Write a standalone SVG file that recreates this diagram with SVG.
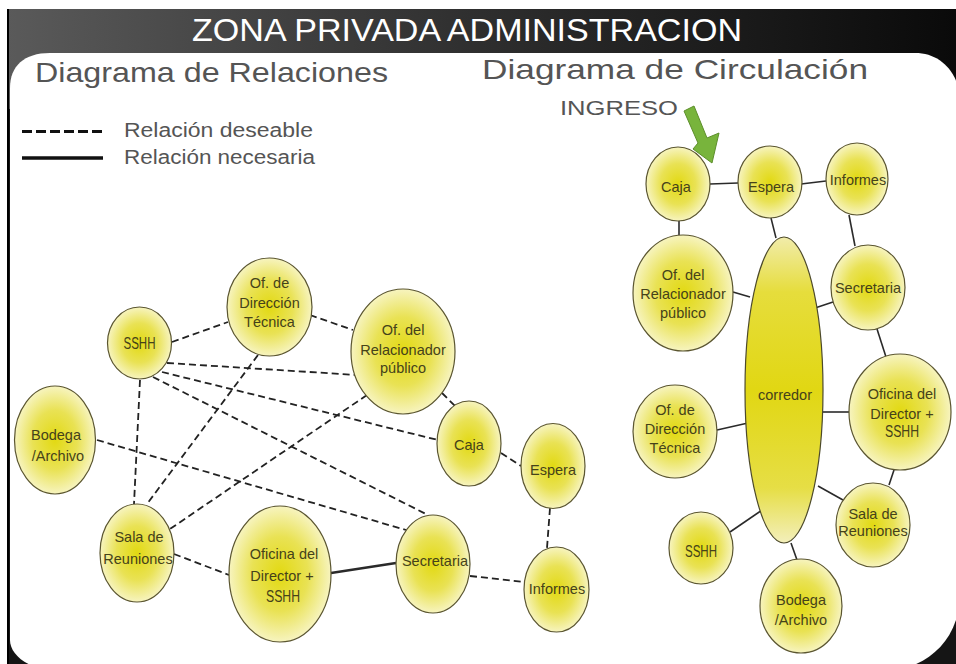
<svg xmlns="http://www.w3.org/2000/svg" width="956" height="664" viewBox="0 0 956 664">
<defs>
  <linearGradient id="hdr" x1="0" y1="0" x2="1" y2="0">
    <stop offset="0" stop-color="#5a5a5a"/>
    <stop offset="0.5" stop-color="#2e2e2e"/>
    <stop offset="1" stop-color="#0a0a0a"/>
  </linearGradient>
  <radialGradient id="node" cx="0.5" cy="0.5" r="0.5">
    <stop offset="0" stop-color="#e2d912"/>
    <stop offset="0.55" stop-color="#e9e254"/>
    <stop offset="1" stop-color="#f7f4bf"/>
  </radialGradient>
  <linearGradient id="corr" x1="0" y1="0" x2="0" y2="1">
    <stop offset="0" stop-color="#f1ecaa"/>
    <stop offset="0.18" stop-color="#e6dd3c"/>
    <stop offset="0.5" stop-color="#e1d713"/>
    <stop offset="0.82" stop-color="#e6de45"/>
    <stop offset="1" stop-color="#f3efbb"/>
  </linearGradient>
</defs>
<style>
  .nd { fill: url(#node); stroke: #5b5630; stroke-width: 1.2; }
  .lbl { font-family: "Liberation Sans", Arial, sans-serif; font-size: 14.5px; fill: #45421a; text-anchor: middle; }
  .sshh { font-size: 16px; }
  .dash { stroke: #222; stroke-width: 1.8; stroke-dasharray: 7 4; fill: none; }
  .solid { stroke: #2a2a2a; stroke-width: 1.6; fill: none; }
  .title { font-family: "Liberation Sans", Arial, sans-serif; fill: #ffffff; font-size: 31px; }
  .sub { font-family: "Liberation Sans", Arial, sans-serif; fill: #555555; font-size: 28px; }
  .leg { font-family: "Liberation Sans", Arial, sans-serif; fill: #555555; font-size: 20px; }
</style>

<!-- frame -->
<rect x="0" y="0" width="956" height="664" fill="#ffffff"/>
<rect x="7" y="9" width="949" height="655" fill="#151515"/>
<rect x="7" y="9" width="949" height="100" fill="url(#hdr)"/>
<path d="M 10 88 C 10 66, 24 53, 50 53 L 915 53 C 938 53, 954 68, 960 92 L 960 598 C 958 636, 934 660, 905 668 L 40 668 C 22 664, 10 652, 10 640 Z" fill="#ffffff"/>
<line x1="8" y1="9" x2="8" y2="664" stroke="#000" stroke-width="2"/>

<text class="title" x="192" y="41" textLength="550" lengthAdjust="spacingAndGlyphs">ZONA PRIVADA ADMINISTRACION</text>
<text class="sub" x="35" y="82" textLength="353" lengthAdjust="spacingAndGlyphs">Diagrama de Relaciones</text>
<text class="sub" x="482" y="79" textLength="386" lengthAdjust="spacingAndGlyphs">Diagrama de Circulación</text>
<text class="sub" x="560" y="115" style="font-size:21px" textLength="118" lengthAdjust="spacingAndGlyphs">INGRESO</text>

<!-- legend -->
<g id="legend">
  <line x1="22" y1="131.5" x2="102" y2="131.5" stroke="#111" stroke-width="3" stroke-dasharray="10 4"/>
  <line x1="22" y1="158" x2="103" y2="158" stroke="#111" stroke-width="3.5"/>
  <text class="leg" x="124" y="137" textLength="189" lengthAdjust="spacingAndGlyphs">Relación deseable</text>
  <text class="leg" x="124" y="164" textLength="191" lengthAdjust="spacingAndGlyphs">Relación necesaria</text>
</g>

<!-- green arrow -->
<polygon id="ingreso-arrow" points="684,111 694,106 707,138 719,133 712,163 693,149 698,143" fill="#78b43c" stroke="#5d8f2b" stroke-width="1"/>

<!-- connectors -->
<g id="connectors">
  <!-- left: relations -->
  <line class="dash" x1="172" y1="342" x2="228" y2="322"/>
  <line class="dash" x1="310" y1="315" x2="353" y2="330"/>
  <line class="dash" x1="167" y1="363" x2="357" y2="375"/>
  <line class="dash" x1="162" y1="372" x2="438" y2="440"/>
  <line class="dash" x1="153" y1="377" x2="428" y2="515"/>
  <line class="dash" x1="140" y1="380" x2="134" y2="504"/>
  <line class="dash" x1="258" y1="355" x2="147" y2="504"/>
  <line class="dash" x1="367" y1="395" x2="170" y2="529"/>
  <line class="dash" x1="442" y1="393" x2="455" y2="406"/>
  <line class="dash" x1="501" y1="453" x2="521" y2="466"/>
  <line class="dash" x1="550" y1="508" x2="547" y2="548"/>
  <line class="dash" x1="97" y1="440" x2="406" y2="530"/>
  <line class="dash" x1="174" y1="554" x2="229" y2="575"/>
  <line class="dash" x1="470" y1="576" x2="525" y2="582"/>
  <line class="solid" x1="331" y1="573" x2="396" y2="563" style="stroke-width:2.5"/>
  <!-- right: circulation -->
  <line class="solid" x1="710" y1="184" x2="738" y2="183"/>
  <line class="solid" x1="801" y1="184" x2="826" y2="181"/>
  <line class="solid" x1="679" y1="221" x2="679" y2="235"/>
  <line class="solid" x1="771" y1="218" x2="776" y2="238"/>
  <line class="solid" x1="849" y1="215" x2="855" y2="246"/>
  <line class="solid" x1="733" y1="292" x2="750" y2="297"/>
  <line class="solid" x1="815" y1="308" x2="833" y2="302"/>
  <line class="solid" x1="877" y1="329" x2="886" y2="357"/>
  <line class="solid" x1="822" y1="412" x2="850" y2="412"/>
  <line class="solid" x1="717" y1="430" x2="748" y2="423"/>
  <line class="solid" x1="818" y1="486" x2="843" y2="500"/>
  <line class="solid" x1="894" y1="470" x2="889" y2="485"/>
  <line class="solid" x1="730" y1="532" x2="765" y2="508"/>
  <line class="solid" x1="791" y1="543" x2="797" y2="560"/>
</g>

<!-- left diagram nodes -->
<g id="l-sshh"><ellipse class="nd" cx="139.5" cy="343" rx="32" ry="36"/><text class="lbl sshh" x="139.5" y="349" textLength="32" lengthAdjust="spacingAndGlyphs">SSHH</text></g>
<g id="l-direccion"><ellipse class="nd" cx="269.5" cy="307" rx="42.5" ry="49"/><text class="lbl" x="269.5" y="288">Of. de</text><text class="lbl" x="269.5" y="308">Dirección</text><text class="lbl" x="269.5" y="327">Técnica</text></g>
<g id="l-relacionador"><ellipse class="nd" cx="403" cy="351.5" rx="52" ry="62.5"/><text class="lbl" x="403" y="335">Of. del</text><text class="lbl" x="403" y="354.5">Relacionador</text><text class="lbl" x="403" y="373">público</text></g>
<g id="l-caja"><ellipse class="nd" cx="469" cy="443.5" rx="32" ry="42.5"/><text class="lbl" x="469" y="450">Caja</text></g>
<g id="l-espera"><ellipse class="nd" cx="553" cy="466" rx="32" ry="42.5"/><text class="lbl" x="553" y="475">Espera</text></g>
<g id="l-informes"><ellipse class="nd" cx="556.5" cy="589.5" rx="32.5" ry="42.5"/><text class="lbl" x="557" y="594">Informes</text></g>
<g id="l-secretaria"><ellipse class="nd" cx="433" cy="564" rx="37" ry="49"/><text class="lbl" x="435" y="566">Secretaria</text></g>
<g id="l-oficina"><ellipse class="nd" cx="280" cy="574" rx="51" ry="68"/><text class="lbl" x="284" y="559">Oficina del</text><text class="lbl" x="282" y="581">Director +</text><text class="lbl sshh" x="283" y="602" textLength="34" lengthAdjust="spacingAndGlyphs">SSHH</text></g>
<g id="l-sala"><ellipse class="nd" cx="137" cy="553" rx="37" ry="49"/><text class="lbl" x="139" y="542">Sala de</text><text class="lbl" x="138" y="564">Reuniones</text></g>
<g id="l-bodega"><ellipse class="nd" cx="55" cy="440" rx="40.5" ry="54"/><text class="lbl" x="56" y="440">Bodega</text><text class="lbl" x="58" y="461">/Archivo</text></g>

<!-- right diagram nodes -->
<g id="r-corredor"><ellipse cx="784" cy="390" rx="39" ry="153" fill="url(#corr)" stroke="#4d4a2a" stroke-width="1.2"/><text class="lbl" x="785" y="399.5">corredor</text></g>
<g id="r-caja"><ellipse class="nd" cx="678" cy="184" rx="32" ry="37"/><text class="lbl" x="676" y="192">Caja</text></g>
<g id="r-espera"><ellipse class="nd" cx="770" cy="182" rx="32" ry="36"/><text class="lbl" x="771" y="192">Espera</text></g>
<g id="r-informes"><ellipse class="nd" cx="857" cy="179" rx="31" ry="36"/><text class="lbl" x="858" y="184.5">Informes</text></g>
<g id="r-relacionador"><ellipse class="nd" cx="683" cy="293" rx="50" ry="58"/><text class="lbl" x="683" y="280">Of. del</text><text class="lbl" x="683" y="299">Relacionador</text><text class="lbl" x="683" y="318">público</text></g>
<g id="r-secretaria"><ellipse class="nd" cx="868" cy="287.5" rx="37" ry="42.5"/><text class="lbl" x="868" y="292.5">Secretaria</text></g>
<g id="r-oficina"><ellipse class="nd" cx="900" cy="412" rx="51" ry="58"/><text class="lbl" x="902" y="398.5">Oficina del</text><text class="lbl" x="902" y="418.5">Director +</text><text class="lbl sshh" x="902" y="437" textLength="34" lengthAdjust="spacingAndGlyphs">SSHH</text></g>
<g id="r-sala"><ellipse class="nd" cx="873" cy="525" rx="37" ry="42"/><text class="lbl" x="873" y="518.5">Sala de</text><text class="lbl" x="873" y="536">Reuniones</text></g>
<g id="r-direccion"><ellipse class="nd" cx="675" cy="431.5" rx="42" ry="46.5"/><text class="lbl" x="675" y="414.5">Of. de</text><text class="lbl" x="675" y="433.5">Dirección</text><text class="lbl" x="675" y="452.5">Técnica</text></g>
<g id="r-sshh"><ellipse class="nd" cx="701" cy="548" rx="32" ry="36"/><text class="lbl sshh" x="701" y="557" textLength="32" lengthAdjust="spacingAndGlyphs">SSHH</text></g>
<g id="r-bodega"><ellipse class="nd" cx="801" cy="606" rx="41" ry="47"/><text class="lbl" x="801" y="605">Bodega</text><text class="lbl" x="801" y="624.5">/Archivo</text></g>
</svg>
